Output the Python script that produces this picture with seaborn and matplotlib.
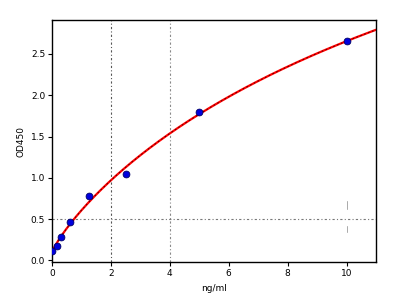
import numpy as np
import pandas as pd
import matplotlib
matplotlib.use("Agg")
import matplotlib.pyplot as plt
import seaborn as sns

conc = [0.0, 0.156, 0.3125, 0.625, 1.25, 2.5, 5.0, 10.0]
od450 = [0.12, 0.17, 0.28, 0.46, 0.78, 1.05, 1.80, 2.65]
x_ticks = [0, 2, 4, 6, 8, 10]
y_ticks = [0.0, 0.5, 1.0, 1.5, 2.0, 2.5]

df = pd.DataFrame({"ng/ml": conc, "OD450": od450})

# 4-parameter logistic least-squares fit (simple Levenberg-Marquardt)
def f4pl(p, x):
    a, b, c, d = p
    return d + (a - d) / (1.0 + (np.maximum(x, 0) / c) ** b)

xs = np.array(conc); ys = np.array(od450)
p = np.array([0.1, 1.0, 8.0, 6.0])
lam = 1e-2
for _ in range(500):
    r = ys - f4pl(p, xs)
    J = np.zeros((len(xs), 4))
    for i in range(4):
        dp = np.zeros(4); dp[i] = 1e-6 * max(1.0, abs(p[i]))
        J[:, i] = (f4pl(p + dp, xs) - f4pl(p, xs)) / dp[i]
    A = J.T @ J
    g = J.T @ r
    step = np.linalg.solve(A + lam * np.diag(np.diag(A)), g)
    pn = p + step
    if pn[2] > 0 and np.sum((ys - f4pl(pn, xs)) ** 2) < np.sum(r ** 2):
        p = pn; lam *= 0.5
    else:
        lam *= 4
xf = np.linspace(0, 11, 300)
yf = f4pl(p, xf)

sns.set_style("white")
plt.rcParams["font.family"] = ["DejaVu Sans"]
plt.rcParams["text.color"] = "black"
plt.rcParams["axes.labelcolor"] = "black"
plt.rcParams["xtick.color"] = "black"
plt.rcParams["ytick.color"] = "black"
fig = plt.figure(figsize=(4.10, 3.03), dpi=100)
ax = fig.add_axes([0.127, 0.135, 0.790, 0.799])

ax.axvline(2, color="#555555", lw=0.8, ls=(0, (2, 2, 1, 2)), zorder=1)
ax.axvline(4, color="#888888", lw=0.8, ls=(0, (2, 2, 1, 2)), zorder=1)
ax.axhline(0.5, color="#777777", lw=0.8, ls=(0, (2, 2, 1, 2)), zorder=1)
ax.plot([10, 10], [0.62, 0.72], color="#aaaaaa", lw=0.7, zorder=1)
ax.plot([10, 10], [0.35, 0.42], color="#aaaaaa", lw=0.7, zorder=1)

sns.lineplot(x=xf, y=yf, color="red", lw=1.6, ax=ax, zorder=2)
ax.plot(xf, yf, color="#400000", lw=0.6, ls=(0, (2, 3)), zorder=3)
sns.scatterplot(data=df, x="ng/ml", y="OD450", color="#0000dd", edgecolor="#000066",
                linewidth=0.6, s=24, ax=ax, zorder=4)

ax.set_xlim(0, 11)
ax.set_ylim(-0.02, 2.91)
ax.set_xticks(x_ticks)
ax.set_xticklabels([str(t) for t in x_ticks])
ax.set_yticks(y_ticks)
ax.set_yticklabels([f"{t:.1f}" for t in y_ticks])
ax.tick_params(axis="both", labelsize=6.5, length=3, width=0.8, direction="out",
               bottom=True, left=True, pad=2, colors="black")
ax.set_xlabel("ng/ml", fontsize=6.5, labelpad=4, color="black")
ax.set_ylabel("OD450", fontsize=6.5, labelpad=4, color="black")
for s in ax.spines.values():
    s.set_color("black"); s.set_linewidth(1.0); s.set_visible(True)

fig.savefig("out.png", dpi=100)
